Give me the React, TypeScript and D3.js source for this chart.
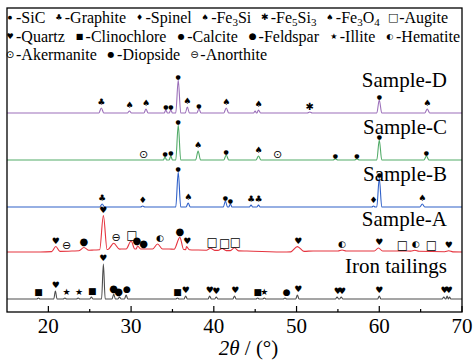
import React, { useRef, useEffect } from 'react';
import * as d3 from 'd3';

const xDomain = [15, 70];
const xTicks = [20, 30, 40, 50, 60, 70];
const xMinorTicks = [25, 35, 45, 55, 65];

const traceNames = ['Sample-D', 'Sample-C', 'Sample-B', 'Sample-A', 'Iron tailings'];
const traceOffsets = [199, 152, 105, 60, 13];

// peaks: [2theta, height, half width]
const sampleDPeaks = [
  [26.4, 5, 0.3], [29.8, 2, 0.25], [31.8, 4, 0.25], [34.2, 3, 0.2], [34.8, 3, 0.2],
  [35.7, 33, 0.3], [36.8, 6, 0.25], [38.2, 4, 0.25], [41.5, 5, 0.3], [45.0, 2, 0.2],
  [45.4, 3, 0.25], [51.6, 1, 0.3], [60.0, 13, 0.3], [65.8, 4, 0.3],
];
const sampleCPeaks = [
  [34.1, 3, 0.2], [34.8, 4, 0.2], [35.7, 35, 0.3], [38.1, 9, 0.3], [41.5, 5, 0.3],
  [45.4, 4, 0.3], [54.7, 1, 0.3], [57.3, 1, 0.3], [60.0, 20, 0.3], [65.7, 4, 0.3],
];
const sampleBPeaks = [
  [26.5, 3, 0.3], [31.4, 1, 0.25], [35.7, 35, 0.3], [36.9, 4, 0.25], [41.4, 6, 0.25],
  [42.0, 3, 0.2], [44.5, 2, 0.2], [45.4, 2, 0.2], [59.3, 1, 0.2], [60.0, 29, 0.3],
  [65.2, 3, 0.3],
];
const sampleAPeaks = [
  [20.9, 5, 0.5], [24.3, 3, 0.6], [26.65, 34, 0.45], [27.9, 6, 0.7], [30.0, 8, 0.6],
  [30.8, 3, 0.35], [33.2, 5, 0.6], [35.9, 12, 0.7], [36.7, 3, 0.35], [39.6, 2, 0.5],
  [41.0, 2, 0.5], [42.5, 3, 0.5], [50.1, 5, 0.8], [55.5, 1, 0.5], [59.9, 3, 0.5],
  [64.3, 1, 0.5], [68.4, 1, 0.5],
];
const sampleABackground = [
  [15, 0], [19, 0], [23, 1], [25.5, 2], [29, 3], [32, 3], [34.6, 3], [38, 2],
  [44, 1], [48.8, 0], [52, 1], [58, 1], [63, 1], [70, 0],
];
const ironPeaks = [
  [18.8, 1, 0.2], [20.85, 8, 0.2], [22.0, 1, 0.2], [23.6, 1, 0.2], [25.2, 2, 0.2],
  [26.65, 35, 0.22], [27.9, 5, 0.2], [28.6, 2, 0.2], [29.4, 4, 0.2], [35.6, 1, 0.2],
  [36.6, 3, 0.2], [39.5, 3, 0.2], [40.3, 2, 0.2], [42.5, 3, 0.2], [45.3, 1, 0.2],
  [46.1, 1, 0.2], [48.6, 1, 0.2], [50.1, 4, 0.2], [54.9, 2, 0.2], [55.4, 2, 0.2],
  [60.0, 3, 0.2], [67.8, 2, 0.2], [68.2, 3, 0.15], [68.5, 2, 0.15],
];

// phase markers: [2theta, phase]
const sampleDMarkers = [
  [26.4, 'graphite'], [29.8, 'fe3o4'], [31.8, 'fe3si'], [34.2, 'sic'], [34.8, 'sic'],
  [35.7, 'sic'], [36.8, 'fe3si'], [38.2, 'sic'], [41.5, 'fe3si'], [45.4, 'fe3si'],
  [51.6, 'fe5si3'], [60.0, 'sic'], [65.8, 'fe3si'],
];
const sampleCMarkers = [
  [31.5, 'akermanite'], [34.1, 'sic'], [34.8, 'sic'], [35.7, 'sic'], [38.1, 'fe3si'],
  [41.5, 'sic'], [45.4, 'fe3si'], [47.7, 'akermanite'], [54.7, 'sic'], [57.3, 'sic'],
  [60.0, 'sic'], [65.7, 'sic'],
];
const sampleBMarkers = [
  [26.5, 'graphite'], [31.4, 'spinel'], [35.7, 'sic'], [36.9, 'fe3si'], [41.4, 'sic'],
  [42.0, 'sic'], [44.5, 'graphite'], [45.4, 'graphite'], [59.3, 'spinel'], [60.0, 'sic'],
  [65.2, 'fe3si'],
];
const sampleAMarkers = [
  [20.9, 'quartz'], [22.2, 'anorthite'], [24.3, 'feldspar'], [26.65, 'quartz'],
  [28.2, 'anorthite'], [30.1, 'augite'], [30.7, 'feldspar'], [31.5, 'feldspar'],
  [33.5, 'hematite'], [35.9, 'feldspar'], [36.8, 'quartz'], [39.8, 'augite'],
  [41.3, 'augite'], [42.6, 'augite'], [50.2, 'quartz'], [55.5, 'hematite'],
  [60.0, 'quartz'], [62.8, 'augite'], [64.4, 'hematite'], [66.3, 'augite'], [68.4, 'quartz'],
];
const ironMarkers = [
  [18.8, 'clinochlore'], [20.9, 'quartz'], [22.2, 'illite'], [23.7, 'illite'],
  [25.3, 'clinochlore'], [26.65, 'quartz'], [27.9, 'feldspar'], [28.5, 'feldspar'],
  [29.5, 'calcite'], [35.6, 'clinochlore'], [36.6, 'quartz'], [39.5, 'quartz'],
  [40.3, 'quartz'], [42.6, 'quartz'], [45.3, 'clinochlore'], [46.1, 'illite'],
  [48.8, 'calcite'], [50.2, 'quartz'], [55.0, 'quartz'], [55.5, 'quartz'],
  [60.0, 'quartz'], [67.9, 'quartz'], [68.4, 'quartz'],
];

const legendRows = [
  ['sic', 'graphite', 'spinel', 'fe3si', 'fe5si3', 'fe3o4', 'augite'],
  ['quartz', 'clinochlore', 'calcite', 'feldspar', 'illite', 'hematite'],
  ['akermanite', 'diopside', 'anorthite'],
];
const phaseLabels = {
  sic: '-SiC', graphite: '-Graphite', spinel: '-Spinel', fe3si: '-Fe3Si',
  fe5si3: '-Fe5Si3', fe3o4: '-Fe3O4', augite: '-Augite', quartz: '-Quartz',
  clinochlore: '-Clinochlore', calcite: '-Calcite', feldspar: '-Feldspar',
  illite: '-Illite', hematite: '-Hematite', akermanite: '-Akermanite',
  diopside: '-Diopside', anorthite: '-Anorthite',
};

const traces = [
  { peaks: sampleDPeaks, bg: null, markers: sampleDMarkers, color: '#9b6fb9' },
  { peaks: sampleCPeaks, bg: null, markers: sampleCMarkers, color: '#52ab68' },
  { peaks: sampleBPeaks, bg: null, markers: sampleBMarkers, color: '#2f60c8' },
  { peaks: sampleAPeaks, bg: sampleABackground, markers: sampleAMarkers, color: '#e5343f' },
  { peaks: ironPeaks, bg: null, markers: ironMarkers, color: '#4d4d4d' },
];

// marker glyphs
const glyphs = {
  sic: ['●', 6], graphite: ['♣', 9], spinel: ['♦', 9], fe3si: ['♠', 9],
  fe5si3: ['✱', 10], fe3o4: ['♠', 9], augite: ['□', 12], quartz: ['♥', 9],
  clinochlore: ['■', 9], calcite: ['●', 9], feldspar: ['●', 10], illite: ['★', 9],
  hematite: ['◐', 9], akermanite: ['⊙', 11], diopside: ['●', 9], anorthite: ['⊖', 11],
};

// legend layout: row centre y, first marker x, right end of row (px)
const legendY = [17, 36, 54];
const legendStart = 10;
const legendEnd = [448, 460, 267];

const W = 473;
const H = 363;
const plot = { left: 7, right: 462, top: 8, bottom: 312 };
const serif = 'Liberation Serif, Times New Roman, serif';

const App = () => {
  const svgRef = useRef(null);

  useEffect(() => {
    const svg = d3.select(svgRef.current);
    svg.selectAll('*').remove();

    const x = d3.scaleLinear().domain(xDomain).range([plot.left, plot.right]);
    const y = d3.scaleLinear().domain([0, plot.bottom - plot.top]).range([plot.bottom, plot.top]);

    const line = d3.line().x(d => x(d[0])).y(d => y(d[1])).curve(d3.curveMonotoneX);

    traces.forEach((t, i) => {
      const off = traceOffsets[i];
      const bg = t.bg || [[xDomain[0], 0], [xDomain[1], 0]];
      const bgAt = v => {
        const j = d3.bisector(d => d[0]).right(bg, v);
        if (j <= 0) return bg[0][1];
        if (j >= bg.length) return bg[bg.length - 1][1];
        const a = bg[j - 1], b = bg[j];
        return a[1] + (b[1] - a[1]) * (v - a[0]) / (b[0] - a[0]);
      };
      const inPeak = v => t.peaks.some(p => v > p[0] - p[2] - 0.05 && v < p[0] + p[2] + 0.05);
      const pts = bg.filter(p => !inPeak(p[0])).map(p => [p[0], p[1]]);
      t.peaks.forEach(p => {
        pts.push([p[0] - p[2], bgAt(p[0] - p[2])]);
        pts.push([p[0], bgAt(p[0]) + p[1]]);
        pts.push([p[0] + p[2], bgAt(p[0] + p[2])]);
      });
      pts.sort((a, b) => a[0] - b[0]);
      const data = pts.map(p => [p[0], p[1] + off]);

      svg.append('path')
        .attr('d', line(data))
        .attr('fill', 'none')
        .attr('stroke', t.color)
        .attr('stroke-width', 1.1);

      // phase markers above the peaks
      t.markers.forEach(m => {
        const near = t.peaks.filter(p => Math.abs(p[0] - m[0]) < 0.4);
        const level = near.length ? bgAt(m[0]) + d3.max(near, p => p[1]) : bgAt(m[0]);
        const g = glyphs[m[1]];
        const gap = m[1] === 'sic' ? 4 : 6;
        svg.append('text')
          .attr('x', x(m[0]))
          .attr('y', y(level + off) - gap)
          .attr('text-anchor', 'middle')
          .attr('dominant-baseline', 'central')
          .style('font-family', 'DejaVu Sans')
          .style('font-size', g[1] + 'px')
          .attr('fill', '#000')
          .text(g[0]);
      });

      svg.append('text')
        .attr('x', plot.right - 15)
        .attr('y', y(off + 26))
        .attr('text-anchor', 'end')
        .style('font-family', serif)
        .style('font-size', '21px')
        .attr('fill', '#000')
        .text(traceNames[i]);
    });

    // frame
    svg.append('rect')
      .attr('x', plot.left).attr('y', plot.top)
      .attr('width', plot.right - plot.left).attr('height', plot.bottom - plot.top)
      .attr('fill', 'none').attr('stroke', '#000').attr('stroke-width', 1.3);

    // ticks
    xTicks.forEach(v => {
      svg.append('line')
        .attr('x1', x(v)).attr('x2', x(v))
        .attr('y1', plot.bottom).attr('y2', plot.bottom - 6)
        .attr('stroke', '#000').attr('stroke-width', 1.2);
      svg.append('text')
        .attr('x', x(v)).attr('y', plot.bottom + 21)
        .attr('text-anchor', 'middle')
        .style('font-family', serif)
        .style('font-size', '21px')
        .text(v);
    });
    xMinorTicks.forEach(v => {
      svg.append('line')
        .attr('x1', x(v)).attr('x2', x(v))
        .attr('y1', plot.bottom).attr('y2', plot.bottom - 3)
        .attr('stroke', '#000').attr('stroke-width', 1.2);
    });

    const title = svg.append('text')
      .attr('x', (plot.left + plot.right) / 2 + 14)
      .attr('y', plot.bottom + 43)
      .attr('text-anchor', 'middle')
      .style('font-family', serif)
      .style('font-size', '21px');
    title.append('tspan').style('font-style', 'italic').text('2θ');
    title.append('tspan').text(' / (°)');

    // legend, laid out in rows with measured text widths
    legendRows.forEach((row, r) => {
      const items = row.map(ph => {
        const g = glyphs[ph];
        const mk = svg.append('text')
          .attr('y', legendY[r])
          .attr('text-anchor', 'middle')
          .attr('dominant-baseline', 'central')
          .style('font-family', 'DejaVu Sans')
          .style('font-size', (g[1] - 1) + 'px')
          .text(g[0]);
        const lt = svg.append('text')
          .attr('y', legendY[r] + 5.5)
          .style('font-family', serif)
          .style('font-size', '16px');
        let afterSub = false;
        phaseLabels[ph].split(/(\d)/).filter(s => s).forEach(s => {
          if (/\d/.test(s)) {
            lt.append('tspan').attr('dy', 3).style('font-size', '11px').text(s);
            afterSub = true;
          } else {
            const ts = lt.append('tspan').text(s);
            if (afterSub) ts.attr('dy', -3);
            afterSub = false;
          }
        });
        return { mk, lt, w: lt.node().getComputedTextLength() };
      });
      const markerW = 10;
      const total = d3.sum(items, d => d.w + markerW);
      const gap = row.length > 1 ? (legendEnd[r] - legendStart + 4 - total) / (row.length - 1) : 0;
      let cx = legendStart;
      items.forEach(it => {
        it.mk.attr('x', cx);
        it.lt.attr('x', cx + 6);
        cx += markerW + it.w + gap;
      });
    });
  }, []);

  return (
    <svg
      ref={svgRef}
      width={W}
      height={H}
      style={{ position: 'absolute', left: 0, top: 0, background: '#fff' }}
    />
  );
};

export default App;
